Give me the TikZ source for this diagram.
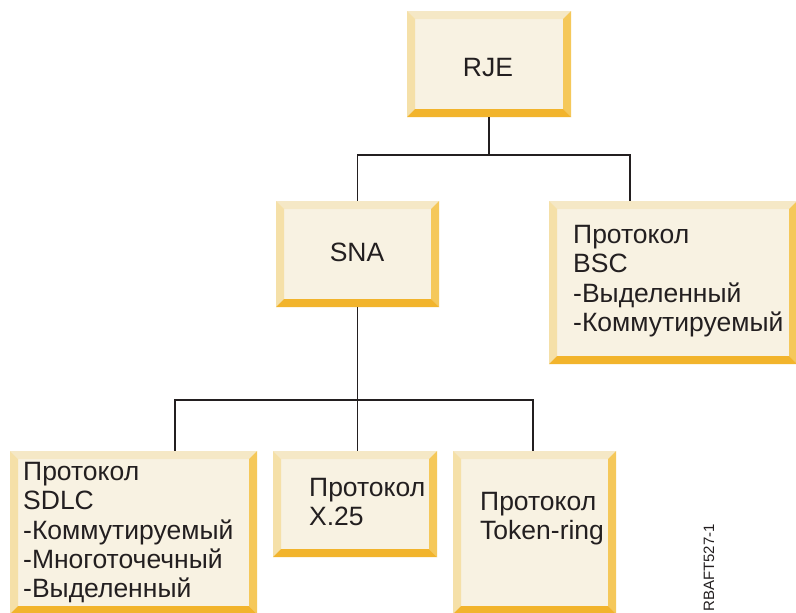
\documentclass[tikz,border=0pt]{standalone}
\usepackage{fontspec}
\setmainfont{Liberation Sans}
\usetikzlibrary{calc}
\definecolor{face}{HTML}{F8F2E2}
\definecolor{bevtop}{HTML}{F5E8C6}
\definecolor{bevleft}{HTML}{F5E0A8}
\definecolor{bevright}{HTML}{F5C85A}
\definecolor{bevbottom}{HTML}{F2B42C}
\definecolor{ink}{HTML}{231F20}
\tikzset{
  bevbox/.style 2 args={rectangle, draw=none, fill=face, inner sep=0pt,
    minimum width=#1pt, minimum height=#2pt,
    path picture={
      \coordinate (pnw) at (path picture bounding box.north west);
      \coordinate (pne) at (path picture bounding box.north east);
      \coordinate (psw) at (path picture bounding box.south west);
      \coordinate (pse) at (path picture bounding box.south east);
      \fill[bevtop] (pnw) -- (pne) -- ($(pne)+(-8pt,-8pt)$) -- ($(pnw)+(8pt,-8pt)$) -- cycle;
      \fill[bevleft] (pnw) -- ($(pnw)+(8pt,-8pt)$) -- ($(psw)+(8pt,8pt)$) -- (psw) -- cycle;
      \fill[bevright] (pne) -- ($(pne)+(-8pt,-8pt)$) -- ($(pse)+(-8pt,8pt)$) -- (pse) -- cycle;
      \fill[bevbottom] (psw) -- ($(psw)+(8pt,8pt)$) -- ($(pse)+(-8pt,8pt)$) -- (pse) -- cycle;
    }},
  label/.style={text=ink, inner sep=0pt, font=\fontsize{26.5}{29.3}\selectfont},
  listtext/.style={label, align=left, anchor=north west},
  conn/.style={draw=ink, line width=1.8pt},
}
\begin{document}
\begin{tikzpicture}[x=1pt, y=-1pt]
  \useasboundingbox (0,0) rectangle (796,613);
  \clip (0,0) rectangle (796,613);
  \fill[white] (0,0) rectangle (796,613);

  % boxes
  \node[bevbox={164}{106}] (rje) at (489,64) {};
  \node[bevbox={163}{106}] (sna) at (357.5,254) {};
  \node[bevbox={248}{163}] (bsc) at (673,282.5) {};
  \node[bevbox={247}{163}] (sdlc) at (133.5,532.5) {};
  \node[bevbox={164}{106}] (xtf) at (355,504) {};
  \node[bevbox={163}{163}] (tok) at (534.5,532.5) {};

  % box texts
  \node[label] (rjet) at (488,68) {RJE};
  \node[label] (snat) at (357,252) {SNA};
  \node[listtext] (bsct) at (573,225) {Протокол\\BSC\\-Выделенный\\-Коммутируемый};
  \node[listtext] (sdlct) at (23,462) {Протокол\\SDLC\\-Коммутируемый\\-Многоточечный\\-Выделенный};
  \node[listtext] (xtft) at (309,478) {Протокол\\X.25};
  \node[listtext] (tokt) at (480,492) {Протокол\\Token-ring};

  % tree connectors
  \coordinate (j1) at (489,155);
  \coordinate (k2) at (630,155);
  \coordinate (t1) at (175,400);
  \coordinate (t3) at (533,400);
  \draw[conn] (rje.south) -- (j1);
  \draw[conn] (sna.north) |- (k2) -- (k2 |- bsc.north);
  \draw[conn] (sna.south) -- (sna.south |- xtf.north);
  \draw[conn] (sdlc.north -| t1) -- (t1) -- (t3) -- (tok.north -| t3);

  % figure id
  \node[text=ink, inner sep=0pt, font=\fontsize{15}{18}\selectfont, rotate=90, anchor=base east] (figid) at (714,524) {RBAFT527-1};
\end{tikzpicture}
\end{document}
